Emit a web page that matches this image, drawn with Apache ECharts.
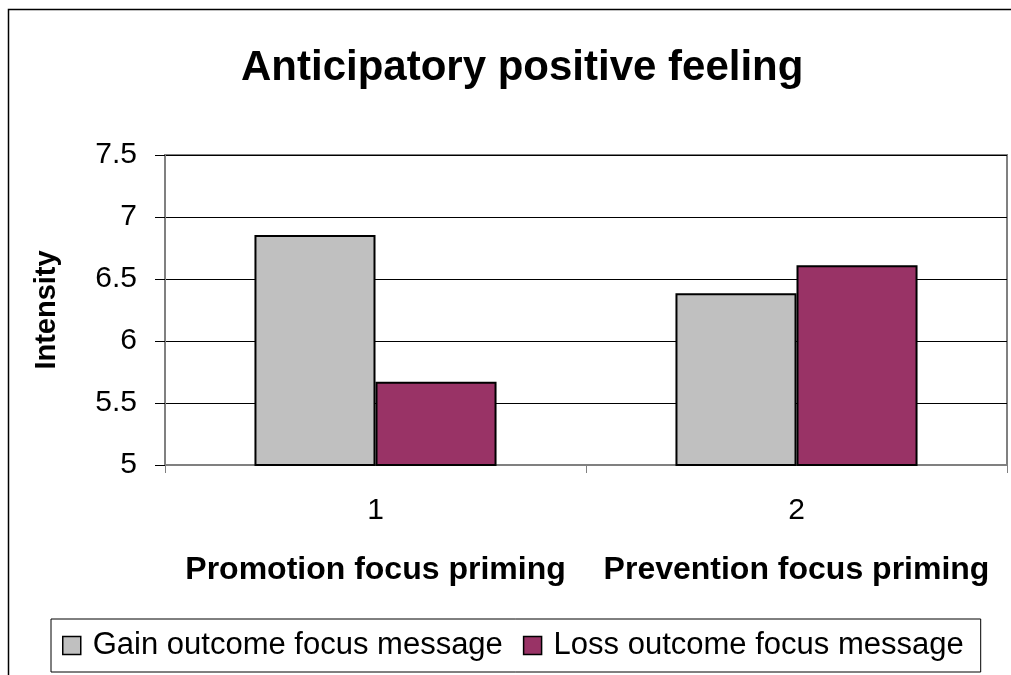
<!DOCTYPE html>
<html>
<head>
<meta charset="utf-8">
<script src="https://cdn.jsdelivr.net/npm/echarts@6/dist/echarts.min.js"></script>
<style>
  html, body { margin: 0; padding: 0; background: #fff; }
  #chart { width: 1011px; height: 675px; }
</style>
</head>
<body>
<div id="chart"></div>
<script>
// Category ticks and their group names
const categories = ['1', '2'];
const groupNames = ['Promotion focus priming', 'Prevention focus priming'];

// Mean intensity per message framing
const seriesNames = ['Gain outcome focus message', 'Loss outcome focus message'];
const gainValues = [6.855, 6.385];
const lossValues = [5.672, 6.61];

// Y axis range
const yMin = 5, yMax = 7.5, yStep = 0.5;

const chart = echarts.init(document.getElementById('chart'), null, { renderer: 'canvas' });

const FONT = 'Liberation Sans, Arial, sans-serif';

chart.setOption({
  backgroundColor: '#ffffff',
  animation: false,
  title: {
    text: 'Anticipatory positive feeling',
    left: 236,
    top: 42,
    textStyle: { fontFamily: FONT, fontSize: 42, fontWeight: 'bold', color: '#000' }
  },
  graphic: [
    {
      type: 'rect',
      shape: { x: 8.5, y: 9.5, width: 1100, height: 800 },
      style: { fill: 'none', stroke: '#000', lineWidth: 1.5 },
      silent: true, z: 0
    }
  ],
  legend: {
    left: 51,
    top: 619,
    itemWidth: 18,
    itemHeight: 18,
    itemGap: 20,
    padding: [8, 17, 8, 11],
    borderColor: '#000',
    borderWidth: 1,
    icon: 'rect',
    itemStyle: { borderColor: '#000', borderWidth: 1.5 },
    textStyle: { fontFamily: FONT, fontSize: 31, lineHeight: 37, color: '#000', padding: [0, 0, 0, 7] },
    data: seriesNames
  },
  grid: {
    left: 165,
    right: 4,
    top: 155,
    bottom: 210,
    show: true,
    borderColor: '#808080',
    borderWidth: 2,
    containLabel: false
  },
  xAxis: {
    type: 'category',
    data: categories,
    axisLine: { lineStyle: { color: '#808080', width: 2 } },
    axisTick: { show: true, length: 8, lineStyle: { color: '#808080' } },
    axisLabel: {
      margin: 16,
      color: '#000',
      fontFamily: FONT,
      formatter: function (v, i) {
        return '{n|' + v + '}\n{g|' + groupNames[i] + '}';
      },
      rich: {
        n: { fontFamily: FONT, fontSize: 30, color: '#000', lineHeight: 60 },
        g: { fontFamily: FONT, fontSize: 32, fontWeight: 'bold', color: '#000', lineHeight: 58 }
      }
    }
  },
  yAxis: {
    type: 'value',
    min: yMin,
    max: yMax,
    interval: yStep,
    name: 'Intensity',
    nameLocation: 'middle',
    nameGap: 104,
    nameRotate: 90,
    nameTextStyle: { fontFamily: FONT, fontSize: 29, fontWeight: 'bold', color: '#000' },
    axisLine: { show: true, lineStyle: { color: '#808080', width: 2 } },
    axisTick: { show: true, length: 10, lineStyle: { color: '#000' } },
    axisLabel: {
      margin: 28,
      fontFamily: FONT,
      fontSize: 30,
      color: '#000',
      formatter: function (v) { return String(v); }
    },
    splitLine: { show: true, lineStyle: { color: '#000', width: 1 } }
  },
  series: [
    {
      name: seriesNames[0],
      type: 'bar',
      data: gainValues,
      barGap: '0%',
      barCategoryGap: '42.5%',
      itemStyle: { color: '#c0c0c0', borderColor: '#000', borderWidth: 2 }
    },
    {
      name: seriesNames[1],
      type: 'bar',
      data: lossValues,
      itemStyle: { color: '#993366', borderColor: '#000', borderWidth: 2 }
    }
  ]
});
</script>
</body>
</html>
